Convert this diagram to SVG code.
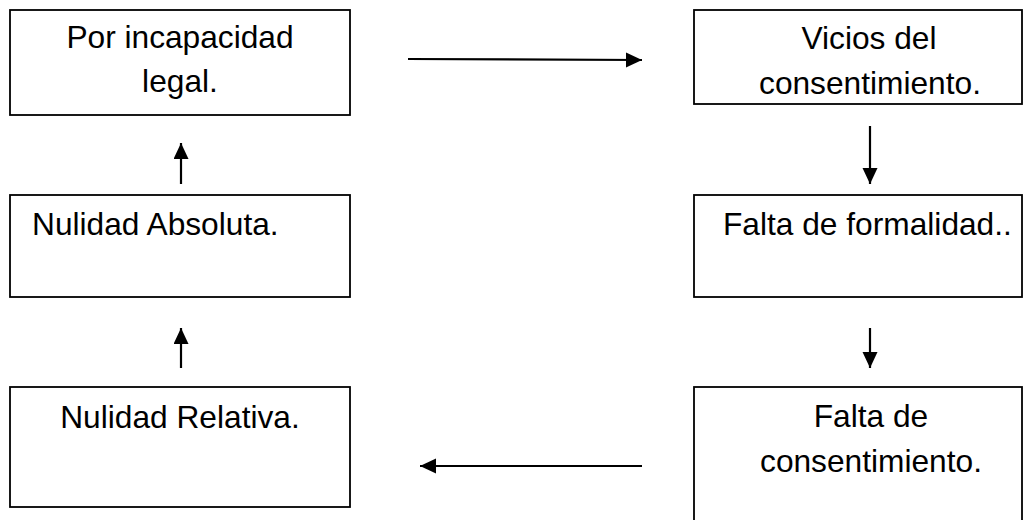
<svg xmlns="http://www.w3.org/2000/svg" width="1034" height="520" viewBox="0 0 1034 520">
<style>
.box{fill:#fff;stroke:#000;stroke-width:1.8}
.t{font-family:"Liberation Sans",Arial,sans-serif;font-size:31.7px;fill:#000}
.c{text-anchor:middle}
.ln{stroke:#000;stroke-width:2.2;fill:none;marker-end:url(#ah)}
</style>
<defs>
<marker id="ah" markerUnits="userSpaceOnUse" markerWidth="17" markerHeight="16" refX="16" refY="7.5" orient="auto">
<path d="M0,0 L16,7.5 L0,15 Z" fill="#000"/>
</marker>
</defs>
<rect width="1034" height="520" fill="#fff"/>
<g id="n1"><rect class="box" x="10" y="10" width="340" height="105"/>
<text class="t c" x="180" y="48">Por incapacidad</text><text class="t c" x="180" y="92">legal.</text></g>
<g id="n2"><rect class="box" x="694" y="10" width="328" height="94"/>
<text class="t c" x="869" y="49">Vicios del</text><text class="t c" x="870" y="94">consentimiento.</text></g>
<g id="n3"><rect class="box" x="10" y="195" width="340" height="102"/>
<text class="t" x="32" y="235">Nulidad Absoluta.</text></g>
<g id="n4"><rect class="box" x="694" y="195" width="328" height="102"/>
<text class="t" x="723" y="235">Falta de formalidad..</text></g>
<g id="n5"><rect class="box" x="10" y="387" width="340" height="120"/>
<text class="t c" x="180" y="428">Nulidad Relativa.</text></g>
<g id="n6"><rect class="box" x="694" y="387" width="328" height="140"/>
<text class="t c" x="871" y="427">Falta de</text><text class="t c" x="871" y="472">consentimiento.</text></g>
<g id="connectors">
<line class="ln" x1="408" y1="59" x2="642" y2="60"/>
<line class="ln" x1="870" y1="126" x2="870" y2="184"/>
<line class="ln" x1="870" y1="328" x2="870" y2="368"/>
<line class="ln" x1="642" y1="466" x2="420" y2="466"/>
<line class="ln" x1="181" y1="368" x2="181" y2="328"/>
<line class="ln" x1="181" y1="184" x2="181" y2="143"/>
</g>
</svg>
